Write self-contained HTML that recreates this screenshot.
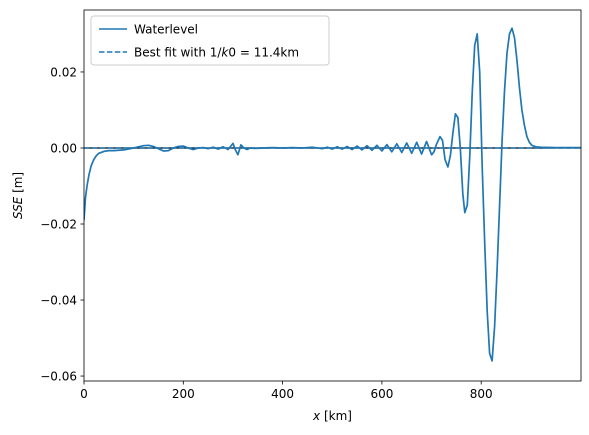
<!DOCTYPE html>
<html><head><meta charset="utf-8"><style>
body{margin:0;background:#fff}
svg{display:block;font-family:"DejaVu Sans","Liberation Sans",sans-serif}
</style></head><body>
<svg id="c" width="589" height="435"></svg>
<script>
const xs=[0,3,6,10,15,20,25,30,40,50,60,80,100,110,120,130,140,150,160,170,180,190,200,210,220,230,240,250,260,270,280,290,300,305,310,316,322,328,335,345,360,380,400,420,440,460,480,490,500,510,520,530,540,550,560,570,580,590,600,610,620,630,640,650,660,670,680,690,700,705,710,717,722,727,733,738,743,748,753,758,763,767,772,777,782,787,792,797,802,807,812,817,822,827,832,837,842,847,852,857,862,867,872,877,882,887,892,897,902,910,920,950,1000];
const ys=[-0.019,-0.013,-0.010,-0.007,-0.0045,-0.003,-0.002,-0.0014,-0.0009,-0.0007,-0.0007,-0.0005,0.0,0.0003,0.0006,0.0007,0.0004,-0.0002,-0.0008,-0.0007,0.0,0.0004,0.0005,0.0,-0.0004,0.0,0.0001,-0.0002,0.0002,-0.0003,0.0003,-0.0004,0.0012,-0.0005,-0.0018,0.0008,0.0,-0.0004,0.0,-0.0001,0.0,0.0001,0.0,0.0001,0.0,0.0002,-0.0002,0.0002,-0.0003,0.0003,-0.0003,0.0004,-0.0004,0.0005,-0.0005,0.0006,-0.0006,0.0007,-0.0008,0.0009,-0.0010,0.0011,-0.0012,0.0013,-0.0014,0.0015,-0.0016,0.0017,-0.0018,-0.001,0.001,0.003,0.002,-0.003,-0.005,-0.002,0.004,0.009,0.008,0.0,-0.012,-0.017,-0.015,-0.002,0.015,0.027,0.030,0.020,-0.005,-0.025,-0.043,-0.054,-0.056,-0.047,-0.032,-0.015,0.002,0.015,0.025,0.030,0.0315,0.029,0.023,0.016,0.010,0.006,0.003,0.0015,0.0007,0.0003,0.0002,0.0001,0.0001];
const fitX=[0,50,100,200,300,400,500,600,700,800,900,1000];
const fitY=[0,0,0,0,0,0,0,0,0,0,0,0];
const xTicks=[0,200,400,600,800];
const yTicks=[0.02,0.0,-0.02,-0.04,-0.06];
const L=84,R=581,T=10,B=381,X0=0,X1=1001,Y0=-0.0613,Y1=0.0363;
const sx=v=>L+(v-X0)/(X1-X0)*(R-L), sy=v=>B-(v-Y0)/(Y1-Y0)*(B-T);
const svg=document.getElementById('c');const NS='http://www.w3.org/2000/svg';
function mk(t,a,p){const e=document.createElementNS(NS,t);for(const k in a)e.setAttribute(k,a[k]);(p||svg).appendChild(e);return e;}
const clip=mk('clipPath',{id:'cp'});mk('rect',{x:L,y:T,width:R-L,height:B-T},clip);
let e=mk('line',{x1:L,x2:R,y1:sy(0),y2:sy(0),stroke:'#000','stroke-width':1.2});


e=mk('path',{d:fitX.map((v,i)=>(i?'L':'M')+sx(v)+' '+sy(fitY[i])).join(''),fill:'none',stroke:'#1f77b4','stroke-width':1.5,'stroke-dasharray':'5.5,2.4','clip-path':'url(#cp)'});


e=mk('path',{d:xs.map((v,i)=>(i?'L':'M')+sx(v).toFixed(1)+' '+sy(ys[i]).toFixed(1)).join(''),fill:'none',stroke:'#1f77b4','stroke-width':1.7,'stroke-linejoin':'round','clip-path':'url(#cp)'});


e=mk('rect',{x:L,y:T,width:R-L,height:B-T,fill:'none',stroke:'#000','stroke-width':0.8});


xTicks.forEach(v=>{mk('line',{x1:sx(v),x2:sx(v),y1:B,y2:B+3.5,stroke:'#000','stroke-width':0.8});
 const t=mk('text',{x:sx(v),y:B+17,'text-anchor':'middle','font-size':12});t.textContent=v;
 
 });
yTicks.forEach(v=>{mk('line',{x1:L-3.5,x2:L,y1:sy(v),y2:sy(v),stroke:'#000','stroke-width':0.8});
 const t=mk('text',{x:L-7,y:sy(v)+4.5,'text-anchor':'end','font-size':12});t.textContent=(v<0?'\u2212':'')+Math.abs(v).toFixed(2);
 
 });
e=mk('text',{x:(L+R)/2,y:420,'text-anchor':'middle','font-size':12});e.innerHTML='<tspan font-style="italic">x</tspan> [km]';


e=mk('text',{x:22,y:(T+B)/2,'text-anchor':'middle','font-size':12,transform:`rotate(-90 22 ${(T+B)/2})`});e.innerHTML='<tspan font-style="italic">SSE</tspan> [m]';


const lg=mk('g',{});


mk('rect',{x:91,y:16,width:238,height:49,rx:3,fill:'#fff','fill-opacity':0.8,stroke:'#ccc','stroke-width':1},lg);
mk('line',{x1:99,x2:127,y1:29,y2:29,stroke:'#1f77b4','stroke-width':1.5},lg);
let t=mk('text',{x:134,y:33.5,'font-size':12},lg);t.textContent='Waterlevel';


mk('line',{x1:99,x2:127,y1:52,y2:52,stroke:'#1f77b4','stroke-width':1.5,'stroke-dasharray':'5.5,2.4'},lg);
t=mk('text',{x:134,y:56.5,'font-size':12},lg);t.innerHTML='Best fit with 1/<tspan font-style="italic">k</tspan>0 = 11.4km';


</script>
</body></html>
